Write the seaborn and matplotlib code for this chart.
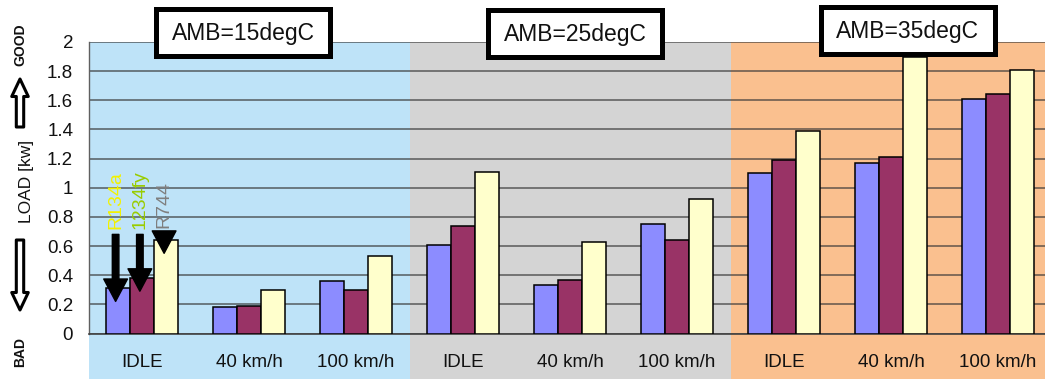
import numpy as np
import pandas as pd
import matplotlib
matplotlib.use("Agg")
import matplotlib.pyplot as plt
from matplotlib.patches import Rectangle, FancyArrowPatch
import seaborn as sns

# ---- data -------------------------------------------------------------
ambients = ["AMB=15degC", "AMB=25degC", "AMB=35degC"]
conditions = ["IDLE", "40 km/h", "100 km/h"]
refrigerants = ["R134a", "1234fy", "R744"]

# compressor load [kW], one value per (ambient, driving condition)
load_r134a = [0.31, 0.18, 0.36, 0.61, 0.33, 0.75, 1.10, 1.17, 1.61]
load_1234fy = [0.38, 0.19, 0.30, 0.74, 0.37, 0.64, 1.19, 1.21, 1.64]
load_r744 = [0.64, 0.30, 0.53, 1.11, 0.63, 0.92, 1.39, 1.90, 1.81]

ytick_values = [0, 0.2, 0.4, 0.6, 0.8, 1.0, 1.2, 1.4, 1.6, 1.8, 2.0]
ytick_labels = ["0", "0.2", "0.4", "0.6", "0.8", "1", "1.2", "1.4", "1.6", "1.8", "2"]

# ---- styling ----------------------------------------------------------
bar_colors = ["#8C8CFF", "#993366", "#FFFFCC"]
panel_colors = ["#BEE3F8", "#D4D4D4", "#FAC08F"]
label_colors = ["#F2F200", "#99CC00", "#7F7F7F"]

sns.set_style("white")
plt.rcParams["font.family"] = ["Liberation Sans", "DejaVu Sans"]

W, H = 1045, 379
fig = plt.figure(figsize=(W / 100, H / 100), dpi=100)


def fx(px):
    return px / W


def fy(py):
    return 1 - py / H


ax = fig.add_axes([fx(88.5), fy(333.5), 963 / W, 291.5 / H])

slots = [f"{a} | {c}" for a in ambients for c in conditions]
rows = []
for name, vals in zip(refrigerants, [load_r134a, load_1234fy, load_r744]):
    for slot, v in zip(slots, vals):
        rows.append({"slot": slot, "refrigerant": name, "load": v})
df = pd.DataFrame(rows)

sns.barplot(data=df, x="slot", y="load", hue="refrigerant", order=slots,
            hue_order=refrigerants, palette=bar_colors, width=0.68,
            edgecolor="black", linewidth=1.1, saturation=1, legend=False,
            ax=ax, zorder=3)

ax.set_xlim(-0.5, len(slots) - 0.5)
ax.set_ylim(0, 2)

# coloured background panels, one per ambient temperature
for i, col in enumerate(panel_colors):
    ax.add_patch(Rectangle((i * 3 - 0.5, -0.45), 3, 2.45, facecolor=col,
                           edgecolor="none", zorder=-2, clip_on=False))

ax.set_facecolor("none")
ax.yaxis.grid(True, color="#3a3a3a", alpha=0.8, linewidth=1.1, zorder=0)
ax.xaxis.grid(False)
ax.set_axisbelow(True)

for s in ["top", "right"]:
    ax.spines[s].set_visible(False)
ax.spines["left"].set_color("#606060")
ax.spines["left"].set_linewidth(1.0)
ax.spines["bottom"].set_color("#404040")
ax.spines["bottom"].set_linewidth(1.2)

ax.set_yticks(ytick_values, ytick_labels)
ax.tick_params(axis="y", length=4, direction="out", pad=7, labelsize=13.5,
               color="#505050", labelcolor="#111111")
ax.set_xticks(range(len(slots)), conditions * len(ambients))
ax.tick_params(axis="x", which="major", length=0, pad=15, labelsize=13.5,
               labelcolor="#111111")
ax.set_xticks(np.arange(0.5, len(slots) - 1, 1), minor=True)
ax.tick_params(axis="x", which="minor", length=5, direction="in",
               color="#404040", width=1)
ax.set_xlabel("")
ax.set_ylabel("")

# refrigerant markers on the first group of bars
first_bars = []
n = len(slots)
for k in range(len(refrigerants)):
    p = ax.patches[k * n]
    first_bars.append((p.get_x() + p.get_width() / 2, p.get_height()))

tails = [0.68, 0.68, 0.69]
for (cx, h), tail, name, col in zip(first_bars, tails, refrigerants, label_colors):
    ax.annotate("", xy=(cx - 0.02, h - 0.09), xytext=(cx - 0.02, tail),
                arrowprops=dict(arrowstyle="simple,head_length=0.85,head_width=0.9,tail_width=0.25",
                                color="black", mutation_scale=19, shrinkA=0, shrinkB=0),
                zorder=6, annotation_clip=False)
    ax.text(cx - 0.02, tail + 0.035, name, rotation=90, ha="center", va="bottom",
            fontsize=14, color=col, zorder=6)

# ambient temperature header boxes
box_cx = [243, 575, 907.5]
box_cy = [32.5, 33.5, 30.5]
box_w, box_h = 174, 46
for label, cx, cy in zip(ambients, box_cx, box_cy):
    fig.patches.append(Rectangle((fx(cx - box_w / 2), fy(cy + box_h / 2)),
                                 box_w / W, box_h / H, transform=fig.transFigure,
                                 facecolor="white", edgecolor="black",
                                 linewidth=3.6, zorder=10))
    fig.text(fx(cx), fy(cy + 1), label, ha="center", va="center",
             fontsize=16.5, color="#111111", zorder=11)

# axis title with good / bad direction arrows
fig.text(fx(27), fy(181), "LOAD [kw]", rotation=90, ha="center", va="center",
         fontsize=12.5, color="#111111")
fig.text(fx(20), fy(45), "GOOD", rotation=90, ha="center", va="center",
         fontsize=10, fontweight="bold", color="#111111")
fig.text(fx(20), fy(352), "BAD", rotation=90, ha="center", va="center",
         fontsize=10, fontweight="bold", color="#111111")
hollow = dict(arrowstyle="simple,head_length=0.9,head_width=0.85,tail_width=0.38",
              facecolor="white", edgecolor="black", linewidth=2.2,
              mutation_scale=14, shrinkA=0, shrinkB=0)
fig.add_artist(FancyArrowPatch(
    (fx(20), fy(127)), (fx(20), fy(79)), transform=fig.transFigure, **hollow))
fig.add_artist(FancyArrowPatch(
    (fx(20), fy(240)), (fx(20), fy(310)), transform=fig.transFigure, **hollow))

fig.savefig("out.png", dpi=100)
